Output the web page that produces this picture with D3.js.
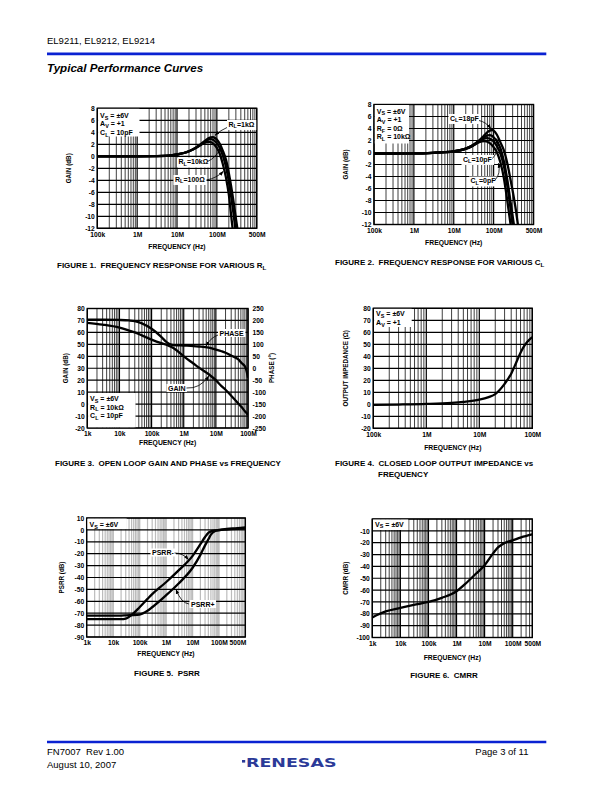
<!DOCTYPE html>
<html><head><meta charset="utf-8">
<script src="https://cdn.jsdelivr.net/npm/d3@7"></script>
<style>
body{margin:0;background:#fff;}
svg{display:block;font-family:"Liberation Sans",Arial,Helvetica,sans-serif;}
text{white-space:pre;}
</style></head><body>
<svg id="page" width="612" height="792"></svg>
<script>
// ================= DATA =================
// Figure 1: frequency response for various RL (gain dB)
const fig1Freq      = [1e5,1e6,3e6,6e6,1e7,2e7,3e7,4e7,5e7,6e7,7e7,8e7,9e7,1e8,1.2e8,1.4e8,1.7e8,2e8,2.3e8,2.6e8,3e8,3.4e8];
const fig1GainRL1k  = [0,0,0.03,0.1,0.3,0.85,1.45,2.05,2.55,2.95,3.15,3.2,3.05,2.8,2.0,1.0,-0.6,-2.8,-5.1,-7.4,-10.3,-12.8];
const fig1GainRL10k = [0,0,0.03,0.1,0.3,0.85,1.45,2.0,2.45,2.75,2.85,2.75,2.5,2.2,1.3,0.2,-1.8,-4.2,-6.8,-9.4,-12.6,-14];
const fig1GainRL100 = [0,0,0.03,0.1,0.3,0.85,1.4,1.9,2.25,2.4,2.35,2.15,1.8,1.4,0.3,-1.2,-3.6,-6.4,-10,-13,-14.5,-15];
const fig1XTicks  = [1e5,1e6,1e7,1e8,1e9];
const fig1XLabels = ["100k","1M","10M","100M","500M"];
const fig1YTicks  = [-12,-10,-8,-6,-4,-2,0,2,4,6,8];

// Figure 2: frequency response for various CL (gain dB)
const fig2Freq     = [1e5,1e6,3e6,6e6,1e7,2e7,3e7,4e7,5e7,6e7,7e7,8e7,9e7,1e8,1.2e8,1.5e8,1.8e8,2.2e8,2.6e8,3e8,3.5e8,4.1e8,4.5e8];
const fig2GainCL18 = [-0.2,-0.15,-0.05,0.05,0.2,0.65,1.2,1.8,2.4,2.95,3.4,3.65,3.75,3.65,3.0,1.6,0.4,-1.8,-4.2,-6.4,-9.0,-12.2,-14];
const fig2GainCL10 = [-0.2,-0.15,-0.05,0.05,0.2,0.65,1.2,1.75,2.2,2.6,2.85,2.9,2.8,2.55,1.9,0.6,-1.4,-4.5,-7.8,-10.6,-13.5,-15,-16];
const fig2GainCL5  = [-0.2,-0.15,-0.05,0.05,0.2,0.65,1.15,1.7,2.1,2.35,2.4,2.3,2.1,1.85,1.1,-0.3,-2.2,-5.5,-8.9,-12.1,-14.5,-16,-17];
const fig2GainCL0  = [-0.2,-0.15,-0.05,0.05,0.2,0.6,1.1,1.6,1.85,1.9,1.8,1.55,1.25,0.9,0.1,-1.8,-4.2,-8.0,-11.5,-14,-16,-17,-18];
const fig2XTicks  = [1e5,1e6,1e7,1e8,1e9];
const fig2XLabels = ["100k","1M","10M","100M","500M"];
const fig2YTicks  = [-12,-10,-8,-6,-4,-2,0,2,4,6,8];

// Figure 3: open loop gain (dB) and phase (deg)
const fig3Freq  = [1e3,3e3,1e4,2e4,3e4,5e4,1e5,2e5,3e5,4e5,5e5,1e6,2e6,3e6,6e6,1e7,1.5e7,2e7,3e7,5e7,6.3e7,8e7,9.1e7,1e8];
const fig3Gain  = [68,66.5,64,61.5,60,57.5,54,51,49.5,48,46.5,40,34,30.5,25,20,15,12,7,0.5,-2.5,-6,-7.7,-9];
const fig3Phase = [203,203,202,200,197,188,165,131,108,99,97,95,93,91,86,78,71,65,53,37,22,8,-13,-40];
const fig3XTicks  = [1e3,1e4,1e5,1e6,1e7,1e8];
const fig3XLabels = ["1k","10k","100k","1M","10M","100M"];
const fig3GainTicks  = [-20,-10,0,10,20,30,40,50,60,70,80];
const fig3PhaseTicks = [-250,-200,-150,-100,-50,0,50,100,150,200,250];

// Figure 4: closed loop output impedance (ohm)
const fig4Freq = [1e5,3e5,1e6,3e6,5e6,1e7,1.5e7,2e7,3e7,4e7,5e7,6e7,7e7,8e7,1e8];
const fig4Zout = [-0.5,-0.2,0.3,1.2,2,3.8,6,8.5,17,25.5,35,43,48.5,52,56];
const fig4XTicks  = [1e5,1e6,1e7,1e8];
const fig4XLabels = ["100k","1M","10M","100M"];
const fig4YTicks  = [-20,-10,0,10,20,30,40,50,60,70,80];

// Figure 5: PSRR (dB)
const fig5Freq       = [1e3,1e4,2e4,3e4,5e4,1e5,2e5,3e5,1e6,3e6,1e7,2e7,3e7,4e7,5e7,7e7,1e8,2e8,5e8,1e9];
const fig5PsrrMinus  = [-75,-75,-75,-74.5,-71.5,-65,-58,-54,-44,-34,-22,-12,-6,-2.5,-1.2,-0.5,0,0.8,1.5,2.2];
const fig5PsrrPlus   = [-72,-72,-72,-71.8,-71.6,-71.2,-68,-65,-55,-45,-32,-21,-13,-8,-4,-1.2,-0.3,0.3,0.8,1];
const fig5XTicks  = [1e3,1e4,1e5,1e6,1e7,1e8,5e8];
const fig5XLabels = ["1k","10k","100k","1M","10M","100M","500M"];
const fig5YTicks  = [-90,-80,-70,-60,-50,-40,-30,-20,-10,0,10];

// Figure 6: CMRR (dB)
const fig6Freq = [1e3,3e3,1e4,3e4,1e5,3e5,1e6,2e6,5e6,1e7,2e7,3e7,5e7,1e8,2e8,5e8];
const fig6Cmrr = [-83,-78,-75,-72.5,-70,-66.5,-61,-55,-46,-39,-29,-24,-20.5,-18,-15.5,-13];
const fig6XTicks  = [1e3,1e4,1e5,1e6,1e7,1e8,5e8];
const fig6XLabels = ["1k","10k","100k","1M","10M","100M","500M"];
const fig6YTicks  = [-100,-90,-80,-70,-60,-50,-40,-30,-20,-10];
const fig6GridY   = [-100,-90,-80,-70,-60,-50,-40,-30,-20,-10,0];

// ================= DRAWING =================
const svg = d3.select("#page");
svg.append("rect").attr("width",612).attr("height",792).attr("fill","#fff");
const defs = svg.append("defs");
defs.append("marker").attr("id","ah").attr("viewBox","0 0 10 10").attr("refX",9).attr("refY",5)
  .attr("markerUnits","userSpaceOnUse").attr("markerWidth",5).attr("markerHeight",5)
  .attr("orient","auto").append("path").attr("d","M0,1.5L10,5L0,8.5z").attr("fill","#000");

const TICK = 6.7, ANN = 7, YLAB = 6.3;
const fmt = d => String(d);

function rich(t, str, size){
  const parts = str.split(/(_\{[^}]*\})/);
  let shifted = false;
  parts.forEach(p=>{
    if(!p) return;
    if(p.startsWith("_{")){
      t.append("tspan").attr("dy", size*0.28).attr("font-size", size*0.78).text(p.slice(2,-1));
      shifted = true;
    } else {
      const s = t.append("tspan").text(p);
      if(shifted){ s.attr("dy", -size*0.28); shifted=false; }
    }
  });
  return t;
}

function logGridValues(d0,d1){
  const out=[];
  for(let e=Math.floor(Math.log10(d0)); e<=Math.ceil(Math.log10(d1)); e++)
    for(let k=1;k<=9;k++){ const v=k*Math.pow(10,e); if(v>=d0*0.999 && v<=d1*1.001) out.push({v,major:k===1}); }
  return out;
}

let clipN=0;
function chart(c){
  const g = svg.append("g");
  const x = d3.scaleLog().domain(c.xDomain).range([c.x0,c.x1]);
  const y = d3.scaleLinear().domain(c.yDomain).range([c.y1,c.y0]);
  const L = {grid:g.append("g"), box:g.append("g"), curve:g.append("g"), text:g.append("g"), arrow:g.append("g")};
  L.grid.append("g").selectAll("line").data(logGridValues(c.xDomain[0],c.xDomain[1])).join("line")
    .attr("x1",d=>x(d.v)).attr("x2",d=>x(d.v)).attr("y1",c.y0).attr("y2",c.y1)
    .attr("stroke",c.vGridColor||"#000")
    .attr("stroke-width",d=>d.major?(c.vGridMajor||1.2):(c.vGridMinor||0.75));
  L.grid.append("g").selectAll("line").data(c.gridY||c.yTicks).join("line")
    .attr("x1",c.x0).attr("x2",c.x1).attr("y1",d=>y(d)).attr("y2",d=>y(d))
    .attr("stroke","#000").attr("stroke-width",1.2);
  L.grid.append("rect").attr("x",c.x0).attr("y",c.y0).attr("width",c.x1-c.x0).attr("height",c.y1-c.y0)
    .attr("fill","none").attr("stroke","#000").attr("stroke-width",1.4);

  const ax = L.text.append("g").attr("transform",`translate(0,${c.y1})`)
    .call(d3.axisBottom(x).tickValues(c.xTicks).tickFormat((d,i)=>c.xLabels[i]).tickSize(0).tickPadding(3.6));
  ax.select(".domain").remove();
  ax.selectAll("text").attr("font-size",TICK).attr("font-weight","bold").attr("fill","#000").attr("font-family",null);
  const ay = L.text.append("g").attr("transform",`translate(${c.x0},0)`)
    .call(d3.axisLeft(y).tickValues(c.yTicks).tickFormat(fmt).tickSize(0).tickPadding(2.5));
  ay.select(".domain").remove();
  ay.selectAll("text").attr("font-size",TICK).attr("font-weight","bold").attr("fill","#000").attr("font-family",null);
  const cx=(c.x0+c.x1)/2, cy=(c.y0+c.y1)/2;
  L.text.append("text").attr("x",cx).attr("y",c.freqY).attr("text-anchor","middle")
    .attr("font-size",6.8).attr("font-weight","bold").text("FREQUENCY (Hz)");
  L.text.append("text").attr("transform",`translate(${c.yLabelX},${cy}) rotate(-90)`).attr("text-anchor","middle")
    .attr("font-size",YLAB).attr("font-weight","bold").text(c.yLabel);

  const id="clip"+(clipN++);
  defs.append("clipPath").attr("id",id).append("rect").attr("x",c.x0).attr("y",c.y0).attr("width",c.x1-c.x0).attr("height",c.y1-c.y0);
  const cg = L.curve.append("g").attr("clip-path",`url(#${id})`);

  if(c.info){
    const b=c.info;
    L.box.append("rect").attr("x",c.x0+0.8).attr("y",b.y0).attr("width",b.x1-c.x0-0.8).attr("height",b.y1-b.y0).attr("fill","#fff");
    b.lines.forEach((s,i)=>{
      rich(L.text.append("text").attr("x",c.x0+2.8).attr("y",b.base+i*b.step).attr("font-size",ANN).attr("font-weight","bold"), s, ANN);
    });
  }
  return {x,y,cg,L,c};
}

function drawSeries(ch, freq, vals, yScale){
  const ys = yScale||ch.y;
  ch.cg.append("path").datum(freq.map((f,i)=>[f,vals[i]]))
    .attr("d", d3.line().x(d=>ch.x(d[0])).y(d=>ys(d[1])).curve(d3.curveMonotoneX))
    .attr("fill","none").attr("stroke","#000").attr("stroke-width",2.3).attr("stroke-linejoin","round");
}

function tag(ch, x, y, str){
  const t = rich(ch.L.text.append("text").attr("x",x).attr("y",y).attr("font-size",ANN).attr("font-weight","bold"), str, ANN);
  const bb = t.node().getBBox();
  ch.L.box.append("rect").attr("x",bb.x-1.5).attr("y",bb.y-0.5).attr("width",bb.width+3).attr("height",bb.height+1).attr("fill","#fff");
}
function arrow(ch, from, to, bend){
  let d;
  if(bend){ d=`M${from[0]},${from[1]}Q${bend[0]},${bend[1]} ${to[0]},${to[1]}`; }
  else d=`M${from[0]},${from[1]}L${to[0]},${to[1]}`;
  ch.L.arrow.append("path").attr("d",d).attr("fill","none").attr("stroke","#000").attr("stroke-width",0.8).attr("marker-end","url(#ah)");
}

// ---------- Figure 1 ----------
const ch1 = chart({x0:97.3,x1:256.7,y0:108.3,y1:228.3,xDomain:[1e5,1e9],yDomain:[-12,8],
  yTicks:fig1YTicks,xTicks:fig1XTicks,xLabels:fig1XLabels,yLabel:"GAIN (dB)",yLabelX:70.5,freqY:248.5,
  info:{x1:139.5,y0:108.8,y1:136.5,base:117.8,step:8.5,lines:["V_{S} = ±6V","A_{V} = +1","C_{L} = 10pF"]}});
drawSeries(ch1, fig1Freq, fig1GainRL100);
drawSeries(ch1, fig1Freq, fig1GainRL10k);
drawSeries(ch1, fig1Freq, fig1GainRL1k);
tag(ch1, 228.5, 126.5, "R_{L}=1kΩ");
arrow(ch1, [227,127.5], [ch1.x(9e7), ch1.y(3.5)], [221,130]);
tag(ch1, 178.5, 164, "R_{L}=10kΩ");
arrow(ch1, [207.5,161.5], [ch1.x(1.3e8), ch1.y(1.6)], [216,158]);
tag(ch1, 175, 181.5, "R_{L}=100Ω");
arrow(ch1, [206.5,180], [ch1.x(1.45e8), ch1.y(-2.5)], [217,178]);

// ---------- Figure 2 ----------
const ch2 = chart({x0:374,x1:533.5,y0:104.5,y1:224.5,xDomain:[1e5,1e9],yDomain:[-12,8],
  yTicks:fig2YTicks,xTicks:fig2XTicks,xLabels:fig2XLabels,yLabel:"GAIN (dB)",yLabelX:347.5,freqY:244.5,
  info:{x1:409,y0:105,y1:143.5,base:113.5,step:8.6,lines:["V_{S} = ±6V","A_{V} = +1","R_{F} = 0Ω","R_{L} = 10kΩ"]}});
drawSeries(ch2, fig2Freq, fig2GainCL0);
drawSeries(ch2, fig2Freq, fig2GainCL5);
drawSeries(ch2, fig2Freq, fig2GainCL10);
drawSeries(ch2, fig2Freq, fig2GainCL18);
tag(ch2, 450, 120.5, "C_{L}=18pF");
arrow(ch2, [479,120.5], [ch2.x(8.5e7), ch2.y(4.0)], [486,122]);
tag(ch2, 463, 161.5, "C_{L}=10pF");
arrow(ch2, [492.5,158.5], [ch2.x(1.2e8), ch2.y(2.3)], [499,152]);
tag(ch2, 470.5, 183, "C_{L}=0pF");
arrow(ch2, [495,180], [ch2.x(1.32e8), ch2.y(-1.8)], [501,174]);

// ---------- Figure 3 ----------
const ch3 = chart({x0:87.3,x1:248,y0:308.5,y1:428,xDomain:[1e3,1e8],yDomain:[-20,80],
  yTicks:fig3GainTicks,xTicks:fig3XTicks,xLabels:fig3XLabels,yLabel:"GAIN (dB)",yLabelX:67.5,freqY:445,
  info:{x1:135.5,y0:393,y1:427.3,base:401,step:8.5,lines:["V_{S} = ±6V","R_{L} = 10kΩ","C_{L} = 10pF"]}});
const yPhase = d3.scaleLinear().domain([-250,250]).range([428,308.5]);
const ayr = ch3.L.text.append("g").attr("transform","translate(248,0)")
  .call(d3.axisRight(yPhase).tickValues(fig3PhaseTicks).tickFormat(fmt).tickSize(0).tickPadding(4.5));
ayr.select(".domain").remove();
ayr.selectAll("text").attr("font-size",TICK).attr("font-weight","bold").attr("fill","#000").attr("font-family",null);
ch3.L.text.append("text").attr("transform","translate(274,368) rotate(-90)").attr("text-anchor","middle")
  .attr("font-size",YLAB).attr("font-weight","bold").text("PHASE (°)");
drawSeries(ch3, fig3Freq, fig3Gain);
drawSeries(ch3, fig3Freq, fig3Phase, yPhase);
tag(ch3, 219.5, 335.5, "PHASE");
arrow(ch3, [218,335], [ch3.x(5e6), yPhase(93)], [210,338]);
tag(ch3, 168, 390.5, "GAIN");
arrow(ch3, [186.5,388], [ch3.x(6e6), ch3.y(23.5)], [200,389]);

// ---------- Figure 4 ----------
const ch4 = chart({x0:373.3,x1:532.3,y0:308.3,y1:428.3,xDomain:[1e5,1e8],yDomain:[-20,80],
  yTicks:fig4YTicks,xTicks:fig4XTicks,xLabels:fig4XLabels,yLabel:"OUTPUT IMPEDANCE (Ω)",yLabelX:347.5,freqY:449.5,
  info:{x1:411.7,y0:308.8,y1:327,base:316,step:8.6,lines:["V_{S} = ±6V","A_{V} = +1"]}});
drawSeries(ch4, fig4Freq, fig4Zout);

// ---------- Figure 5 ----------
const ch5 = chart({x0:86.7,x1:245.3,y0:518,y1:637,xDomain:[1e3,1e9],yDomain:[-90,10],
  yTicks:fig5YTicks,xTicks:fig5XTicks,xLabels:fig5XLabels,yLabel:"PSRR (dB)",yLabelX:63.5,freqY:655.5,
  vGridColor:"#bcbcbc",vGridMajor:1.6,vGridMinor:1.2,
  info:{x1:126.7,y0:518.6,y1:529,base:527,step:8.5,lines:["V_{S} = ±6V"]}});
drawSeries(ch5, fig5Freq, fig5PsrrPlus);
drawSeries(ch5, fig5Freq, fig5PsrrMinus);
tag(ch5, 152, 555, "PSRR-");
arrow(ch5, [174.5,553], [ch5.x(7e6), ch5.y(-25)], [183,553]);
tag(ch5, 191, 606.5, "PSRR+");
arrow(ch5, [189,604], [ch5.x(2.4e6), ch5.y(-50)], [181,603]);

// ---------- Figure 6 ----------
const ch6 = chart({x0:372.3,x1:532.3,y0:519,y1:637.5,xDomain:[1e3,5e8],yDomain:[-100,0],
  yTicks:fig6YTicks,gridY:fig6GridY,xTicks:fig6XTicks,xLabels:fig6XLabels,yLabel:"CMRR (dB)",yLabelX:347.5,freqY:659.5,
  info:{x1:408.3,y0:519.5,y1:530,base:526.5,step:8.5,lines:["V_{S} = ±6V"]}});
drawSeries(ch6, fig6Freq, fig6Cmrr);

// ---------- Captions ----------
function caption(x, y, str, anchor){
  rich(svg.append("text").attr("x",x).attr("y",y).attr("font-size",8).attr("font-weight","bold").attr("text-anchor",anchor||"start"), str, 8);
}
caption(57, 267.5, "FIGURE 1.  FREQUENCY RESPONSE FOR VARIOUS R_{L}");
caption(335, 264.5, "FIGURE 2.  FREQUENCY RESPONSE FOR VARIOUS C_{L}");
caption(55, 465.5, "FIGURE 3.  OPEN LOOP GAIN AND PHASE vs FREQUENCY");
caption(335, 465.5, "FIGURE 4.  CLOSED LOOP OUTPUT IMPEDANCE vs");
caption(378, 476.5, "FREQUENCY");
caption(167, 675.5, "FIGURE 5.  PSRR", "middle");
caption(444, 677.5, "FIGURE 6.  CMRR", "middle");

// ---------- Header / footer ----------
const BLUE = "#0a22d2";
svg.append("text").attr("x",47).attr("y",44.3).attr("font-size",9.5).text("EL9211, EL9212, EL9214");
svg.append("line").attr("x1",47).attr("x2",546.3).attr("y1",53.8).attr("y2",53.8).attr("stroke",BLUE).attr("stroke-width",2.8);
svg.append("text").attr("x",47).attr("y",72.3).attr("font-size",11.6).attr("font-weight","bold").attr("font-style","italic").text("Typical Performance Curves");
svg.append("line").attr("x1",47).attr("x2",546.3).attr("y1",742).attr("y2",742).attr("stroke",BLUE).attr("stroke-width",2.6);
svg.append("text").attr("x",47).attr("y",755).attr("font-size",9.5).text("FN7007  Rev 1.00");
svg.append("text").attr("x",47).attr("y",767.6).attr("font-size",9.5).text("August 10, 2007");
svg.append("text").attr("x",528.5).attr("y",755).attr("font-size",9.5).attr("text-anchor","end").text("Page 3 of 11");
const LOGO = "#2b3a98";
svg.append("rect").attr("x",242).attr("y",760).attr("width",3.2).attr("height",2.6).attr("fill",LOGO);
svg.append("text").attr("x",246).attr("y",766.5).attr("font-size",13).attr("font-family","'DejaVu Sans',sans-serif")
  .attr("font-weight","bold").attr("fill",LOGO).attr("textLength",90.5).attr("lengthAdjust","spacingAndGlyphs").text("RENESAS");
</script>
</body></html>
